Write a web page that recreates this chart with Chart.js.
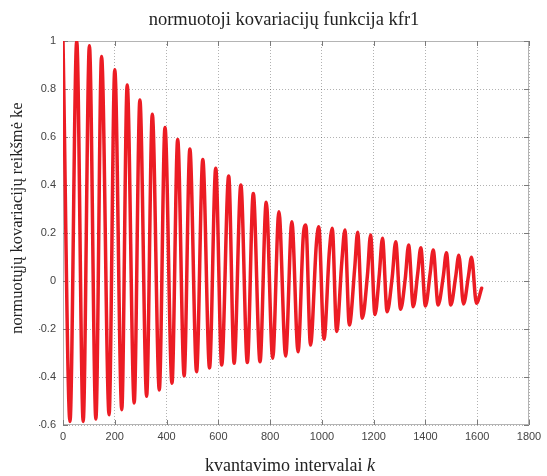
<!DOCTYPE html>
<html>
<head>
<meta charset="utf-8">
<script src="https://cdn.jsdelivr.net/npm/chart.js@4.4.0/dist/chart.umd.min.js"></script>
<style>
  html, body { margin: 0; padding: 0; background: #fff; }
</style>
</head>
<body>
<canvas id="kfrChart" width="547" height="476"></canvas>
<script>
// values: local maxima / minima of kfr1 and their lags
const peakK = [0, 53, 102, 149, 200, 248, 297, 345, 394, 443, 490, 540, 590, 640, 687, 735, 785, 834, 884, 938, 988, 1040, 1089, 1138, 1188, 1234, 1285, 1335, 1382, 1430, 1481, 1529, 1578];
const peakV = [1.0, 1.0, 0.98, 0.935, 0.88, 0.817, 0.754, 0.695, 0.64, 0.59, 0.55, 0.506, 0.47, 0.438, 0.40, 0.365, 0.328, 0.289, 0.247, 0.233, 0.226, 0.22, 0.213, 0.203, 0.192, 0.178, 0.164, 0.15, 0.139, 0.129, 0.118, 0.107, 0.099];
const troughK = [27, 78, 127, 178, 227, 275, 323, 372, 421, 468, 516, 566, 613, 661, 712, 761, 810, 860, 908, 956, 1008, 1057, 1106, 1156, 1205, 1252, 1304, 1353, 1400, 1449, 1498, 1547, 1597];
const troughV = [-0.585, -0.585, -0.575, -0.557, -0.536, -0.508, -0.48, -0.454, -0.426, -0.395, -0.378, -0.362, -0.35, -0.343, -0.34, -0.336, -0.322, -0.313, -0.295, -0.267, -0.243, -0.21, -0.183, -0.155, -0.14, -0.128, -0.118, -0.107, -0.104, -0.1, -0.1, -0.096, -0.093];
// small shoulders on the rising edge of the later cycles
const shoulderK = [929, 979, 1029, 1077, 1127, 1176, 1222, 1272, 1322, 1370, 1418, 1469, 1517, 1566];
const shoulderV = [0.2, 0.16, 0.125, 0.08, 0.057, 0.025, 0.03, 0.02, 0.01, 0.03, 0.03, 0.02, 0.02, 0.02];
const endK = [1617];
const endV = [-0.03];

const xTicks = [0, 200, 400, 600, 800, 1000, 1200, 1400, 1600, 1800];
const yTicks = [-0.6, -0.4, -0.2, 0, 0.2, 0.4, 0.6, 0.8, 1];

function buildPoints() {
  const pts = [];
  peakK.forEach((k, i) => pts.push({x: k, y: peakV[i]}));
  troughK.forEach((k, i) => pts.push({x: k, y: troughV[i]}));
  shoulderK.forEach((k, i) => pts.push({x: k, y: shoulderV[i]}));
  endK.forEach((k, i) => pts.push({x: k, y: endV[i]}));
  return pts.sort((a, b) => a.x - b.x);
}

const serif = '"Liberation Serif", serif';

// box round the plot, inward tick marks and the axis titles (the k is italic)
const axisDecor = {
  id: 'axisDecor',
  beforeDatasetsDraw(chart) {
    const {ctx, chartArea: a, scales: {x, y}} = chart;
    ctx.save();
    ctx.strokeStyle = '#b4b4b4';
    ctx.lineWidth = 1;
    ctx.strokeRect(a.left + 0.5, a.top + 0.5, a.width - 1, a.height - 1);
    ctx.strokeStyle = '#7a7a7a';
    ctx.beginPath();
    xTicks.forEach(v => {
      const px = Math.round(x.getPixelForValue(v)) + 0.5;
      ctx.moveTo(px, a.bottom); ctx.lineTo(px, a.bottom - 5);
      ctx.moveTo(px, a.top); ctx.lineTo(px, a.top + 5);
    });
    yTicks.forEach(v => {
      const py = Math.round(y.getPixelForValue(v)) + 0.5;
      ctx.moveTo(a.left, py); ctx.lineTo(a.left + 5, py);
      ctx.moveTo(a.right, py); ctx.lineTo(a.right - 5, py);
    });
    ctx.stroke();
    ctx.restore();
  },
  afterDraw(chart) {
    const {ctx, chartArea: a} = chart;
    ctx.save();
    ctx.fillStyle = '#222';
    ctx.textBaseline = 'middle';

    // x title
    const main = 'kvantavimo intervalai ';
    const ital = 'k';
    ctx.textAlign = 'left';
    ctx.font = '18px ' + serif;
    const w1 = ctx.measureText(main).width;
    ctx.font = 'italic 18px ' + serif;
    const w2 = ctx.measureText(ital).width;
    const x0 = (a.left + a.right) / 2 - 6 - (w1 + w2) / 2;
    ctx.font = '18px ' + serif;
    ctx.fillText(main, x0, 466);
    ctx.font = 'italic 18px ' + serif;
    ctx.fillText(ital, x0 + w1, 466);

    // y title, sits a little above the middle of the axis
    ctx.translate(18, (a.top + a.bottom) / 2 - 15);
    ctx.rotate(-Math.PI / 2);
    ctx.textAlign = 'center';
    ctx.font = '16.5px ' + serif;
    ctx.fillText('normuotųjų kovariacijų reikšmė ke', 0, 0);
    ctx.restore();
  }
};

const tickFont = {family: '"Liberation Sans", Arial, sans-serif', size: 11};

new Chart(document.getElementById('kfrChart'), {
  type: 'line',
  data: {
    datasets: [{
      label: 'kfr1',
      data: buildPoints(),
      borderColor: '#ec1c24',
      borderWidth: 3.5,
      pointRadius: 0,
      cubicInterpolationMode: 'monotone',
      borderJoinStyle: 'round',
      borderCapStyle: 'round',
      fill: false
    }]
  },
  options: {
    responsive: false,
    animation: false,
    // left padding shifts the centred title; the y axis box makes up the rest
    layout: {padding: {top: 0, right: 18, bottom: 0, left: 39}},
    plugins: {
      legend: {display: false},
      tooltip: {enabled: false},
      title: {
        display: true,
        text: 'normuotoji kovariacijų funkcija kfr1',
        color: '#222',
        font: {family: serif, size: 18.5, weight: 'normal', lineHeight: 1.2},
        padding: {top: 9, bottom: 9.8}
      }
    },
    scales: {
      x: {
        type: 'linear',
        min: 0,
        max: 1800,
        afterBuildTicks: s => { s.ticks = xTicks.map(v => ({value: v})); },
        afterFit: s => { s.height = 51; },
        ticks: {color: '#444', font: tickFont, padding: 5, maxRotation: 0, callback: v => String(v)},
        grid: {color: 'rgba(0,0,0,0.3)', drawTicks: false},
        border: {display: false, dash: [1, 2]}
      },
      y: {
        min: -0.6,
        max: 1,
        afterBuildTicks: s => { s.ticks = yTicks.map(v => ({value: v})); },
        afterFit: s => { s.width = 24; },
        ticks: {
          color: '#444',
          font: tickFont,
          padding: 7,
          callback: v => String(Math.round(v * 10) / 10)
        },
        grid: {color: 'rgba(0,0,0,0.3)', drawTicks: false},
        border: {display: false, dash: [1, 2]}
      }
    }
  },
  plugins: [axisDecor]
});
</script>
</body>
</html>
